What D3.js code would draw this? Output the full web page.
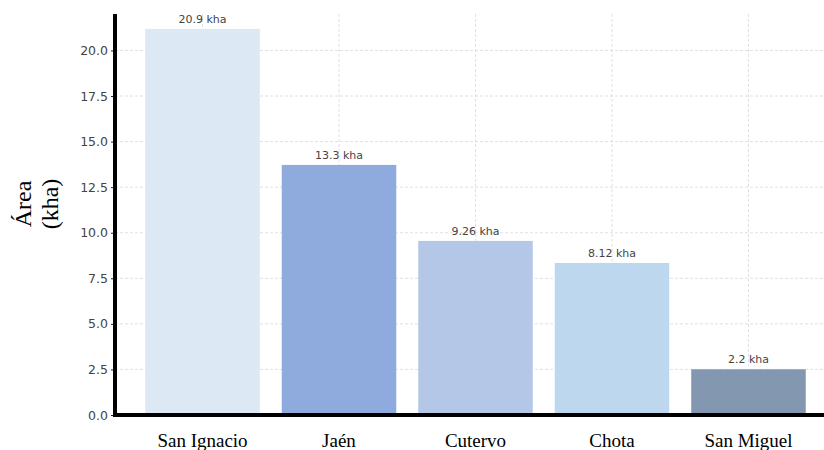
<!DOCTYPE html>
<html>
<head>
    <meta charset="utf-8" />
    <title>Área por provincia</title>
    <script type="text/javascript" src="https://cdn.jsdelivr.net/npm/d3@7"></script>
    <style>
        body { margin: 0; background: #fff; }
        .tick line { stroke: #222; }
    </style>
</head>
<body>
    <script type="text/javascript">

        // data
        var provincias = ["San Ignacio", "Jaén", "Cutervo", "Chota", "San Miguel"];
        var area = [21.18, 13.72, 9.55, 8.34, 2.51];
        var etiquetas = ["20.9 kha", "13.3 kha", "9.26 kha", "8.12 kha", "2.2 kha"];
        var colores = ["#dde8f5", "#8faadc", "#b4c7e7", "#bdd7ee", "#8497b0"];
        var yTicks = [0, 2.5, 5, 7.5, 10, 12.5, 15, 17.5, 20];

        var w = 824;
        var h = 450;
        var plotLeft = 115, plotRight = 824, plotTop = 14, plotBottom = 415;

        var svg = d3.select("body")
            .append("svg")
            .attr("width", w)
            .attr("height", h);

        // band range runs a bit past the right edge, like the reference
        var xScale = d3.scaleBand()
            .domain(provincias)
            .range([plotLeft + 2, 834])
            .paddingInner(0.161)
            .paddingOuter(0.207);

        var yScale = d3.scaleLinear()
            .domain([0, 22])
            .range([plotBottom, plotTop]);

        // grid
        var grid = svg.append("g").attr("class", "grid");
        grid.selectAll("line.h")
            .data(yTicks)
            .enter()
            .append("line")
            .attr("class", "h")
            .attr("x1", plotLeft)
            .attr("x2", plotRight)
            .attr("y1", function (d) { return yScale(d); })
            .attr("y2", function (d) { return yScale(d); })
            .attr("stroke", "#d9d9d9")
            .attr("stroke-width", 0.8)
            .attr("stroke-dasharray", "3,2");

        grid.selectAll("line.v")
            .data(provincias)
            .enter()
            .append("line")
            .attr("class", "v")
            .attr("x1", function (d) { return xScale(d) + xScale.bandwidth() / 2; })
            .attr("x2", function (d) { return xScale(d) + xScale.bandwidth() / 2; })
            .attr("y1", plotTop)
            .attr("y2", plotBottom)
            .attr("stroke", "#d9d9d9")
            .attr("stroke-width", 0.8)
            .attr("stroke-dasharray", "3,2");

        // bars
        svg.append("g")
            .selectAll("rect")
            .data(provincias)
            .enter()
            .append("rect")
            .attr("x", function (d) { return xScale(d); })
            .attr("y", function (d, i) { return yScale(area[i]); })
            .attr("width", xScale.bandwidth())
            .attr("height", function (d, i) { return yScale(0) - yScale(area[i]); })
            .attr("fill", function (d, i) { return colores[i]; });

        // value labels
        svg.append("g")
            .selectAll("text")
            .data(provincias)
            .enter()
            .append("text")
            .attr("x", function (d) { return xScale(d) + xScale.bandwidth() / 2; })
            .attr("y", function (d, i) { return yScale(area[i]) - 6; })
            .attr("text-anchor", "middle")
            .attr("font-family", "DejaVu Sans")
            .attr("font-size", 11)
            .attr("fill", "#444")
            .text(function (d, i) { return etiquetas[i]; });

        // y axis
        var yAxis = d3.axisLeft(yScale)
            .tickValues(yTicks)
            .tickFormat(d3.format(".1f"))
            .tickSize(3)
            .tickPadding(3);

        var gy = svg.append("g")
            .attr("transform", "translate(" + (plotLeft - 1) + ",0)")
            .call(yAxis);
        gy.select(".domain").remove();
        gy.selectAll("text")
            .attr("font-family", "DejaVu Sans")
            .attr("font-size", 12.5)
            .attr("fill", "#444");

        // x labels
        svg.append("g")
            .selectAll("text")
            .data(provincias)
            .enter()
            .append("text")
            .attr("x", function (d) { return xScale(d) + xScale.bandwidth() / 2; })
            .attr("y", 447)
            .attr("text-anchor", "middle")
            .attr("font-family", "Liberation Serif")
            .attr("font-size", 19)
            .attr("fill", "#000")
            .text(function (d) { return d; });

        // thick spines
        svg.append("line")
            .attr("x1", plotLeft).attr("x2", plotLeft)
            .attr("y1", plotTop).attr("y2", plotBottom + 2)
            .attr("stroke", "#000").attr("stroke-width", 4);
        svg.append("line")
            .attr("x1", plotLeft - 2).attr("x2", plotRight)
            .attr("y1", plotBottom).attr("y2", plotBottom)
            .attr("stroke", "#000").attr("stroke-width", 4);

        // y title
        var title = svg.append("text")
            .attr("transform", "translate(31,204) rotate(-90)")
            .attr("text-anchor", "middle")
            .attr("font-family", "Liberation Serif")
            .attr("font-size", 24)
            .attr("fill", "#000");
        title.append("tspan").attr("x", 0).attr("dy", 0).text("Área");
        title.append("tspan").attr("x", 0).attr("dy", 27).text("(kha)");

    </script>
</body>
</html>
